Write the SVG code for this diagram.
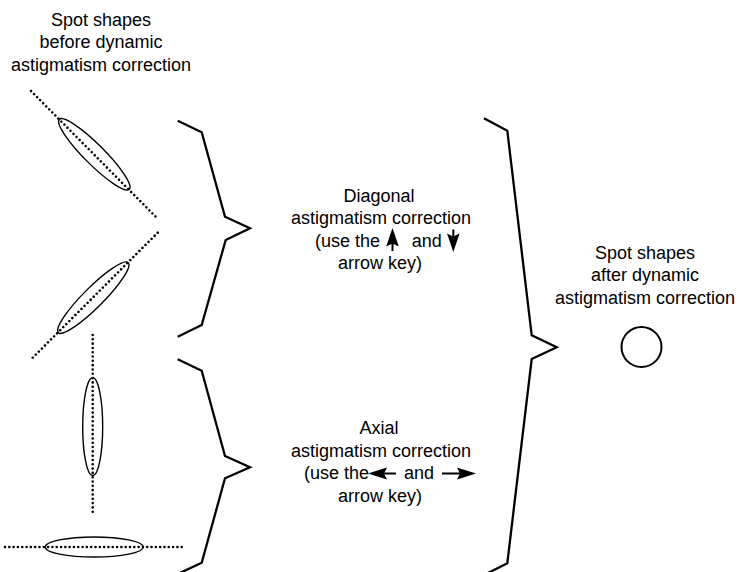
<svg xmlns="http://www.w3.org/2000/svg" width="739" height="572" viewBox="0 0 739 572">
<style>
text{font-family:"Liberation Sans",Arial,sans-serif;font-size:18px;fill:#000}
.c{text-anchor:middle}
.dot{fill:none;stroke:#000;stroke-width:2.6;stroke-linecap:round;stroke-dasharray:0.01 4.3}
.ell{fill:none;stroke:#000;stroke-width:1.4}
.brace{fill:none;stroke:#000;stroke-width:2.3;stroke-linejoin:miter}
.arr{fill:#000;stroke:none}
</style>
<rect width="739" height="572" fill="#fff"/>
<g id="label-before">
<text class="c" x="101" y="25.5">Spot shapes</text>
<text class="c" x="101" y="48">before dynamic</text>
<text class="c" x="101" y="70.5">astigmatism correction</text>
</g>
<g id="spot1">
<line class="dot" x1="31" y1="91" x2="157" y2="218"/>
<ellipse class="ell" cx="94.3" cy="154.3" rx="49.5" ry="10" transform="rotate(45 94.3 154.3)"/>
</g>
<g id="spot2">
<line class="dot" x1="157.7" y1="232.7" x2="30.7" y2="359.7"/>
<ellipse class="ell" cx="93.3" cy="297.7" rx="49.5" ry="10" transform="rotate(-45 93.3 297.7)"/>
</g>
<g id="spot3">
<line class="dot" x1="92.7" y1="335" x2="92.7" y2="515"/>
<ellipse class="ell" cx="92.7" cy="426.7" rx="10" ry="49"/>
</g>
<g id="spot4">
<line class="dot" x1="5" y1="547" x2="186" y2="547"/>
<ellipse class="ell" cx="94.2" cy="547" rx="49" ry="10"/>
</g>
<g id="connectors">
<polyline class="brace" points="177.7,120.7 201.7,132.3 225,216.7 250,228.3 225.7,240 201.7,325 177.7,336.7"/>
<polyline class="brace" points="177.7,359.3 201.7,370.7 225,456 250,467.3 225,478.3 201.7,562.7 177.7,574"/>
<polyline class="brace" points="484,118.3 507.3,130.7 531.7,335.3 556.7,347.3 531.7,359 507.3,563.3 484,575"/>
</g>
<g id="diagonal">
<text class="c" x="379" y="201.5">Diagonal</text>
<text class="c" x="381" y="224">astigmatism correction</text>
<text x="315" y="246.5">(use the</text>
<text x="411.7" y="246.5">and</text>
<path class="arr" d="M392.5,228 L398.8,246.5 L392.5,243.5 L386.2,246.5 Z"/>
<rect class="arr" x="391.5" y="242" width="2" height="9"/>
<path class="arr" d="M453.3,252 L459.6,233.5 L453.3,236.5 L447,233.5 Z"/>
<rect class="arr" x="452.3" y="229.5" width="2" height="8"/>
<text class="c" x="380" y="269">arrow key)</text>
</g>
<g id="axial">
<text class="c" x="379" y="434">Axial</text>
<text class="c" x="381" y="456.5">astigmatism correction</text>
<text x="304" y="479">(use the</text>
<text x="404" y="479">and</text>
<path class="arr" d="M368,473.5 L387,467.5 L384,473.5 L387,479.5 Z"/>
<rect class="arr" x="383" y="472.5" width="13" height="2"/>
<path class="arr" d="M476,473.5 L457,467.5 L460,473.5 L457,479.5 Z"/>
<rect class="arr" x="442" y="472.5" width="19" height="2"/>
<text class="c" x="380" y="501.5">arrow key)</text>
</g>
<g id="label-after">
<text class="c" x="645" y="258.5">Spot shapes</text>
<text class="c" x="645" y="281">after dynamic</text>
<text class="c" x="645" y="303.5">astigmatism correction</text>
</g>
<g id="spot-after">
<circle cx="641.5" cy="347" r="20" fill="none" stroke="#000" stroke-width="2"/>
</g>
</svg>
